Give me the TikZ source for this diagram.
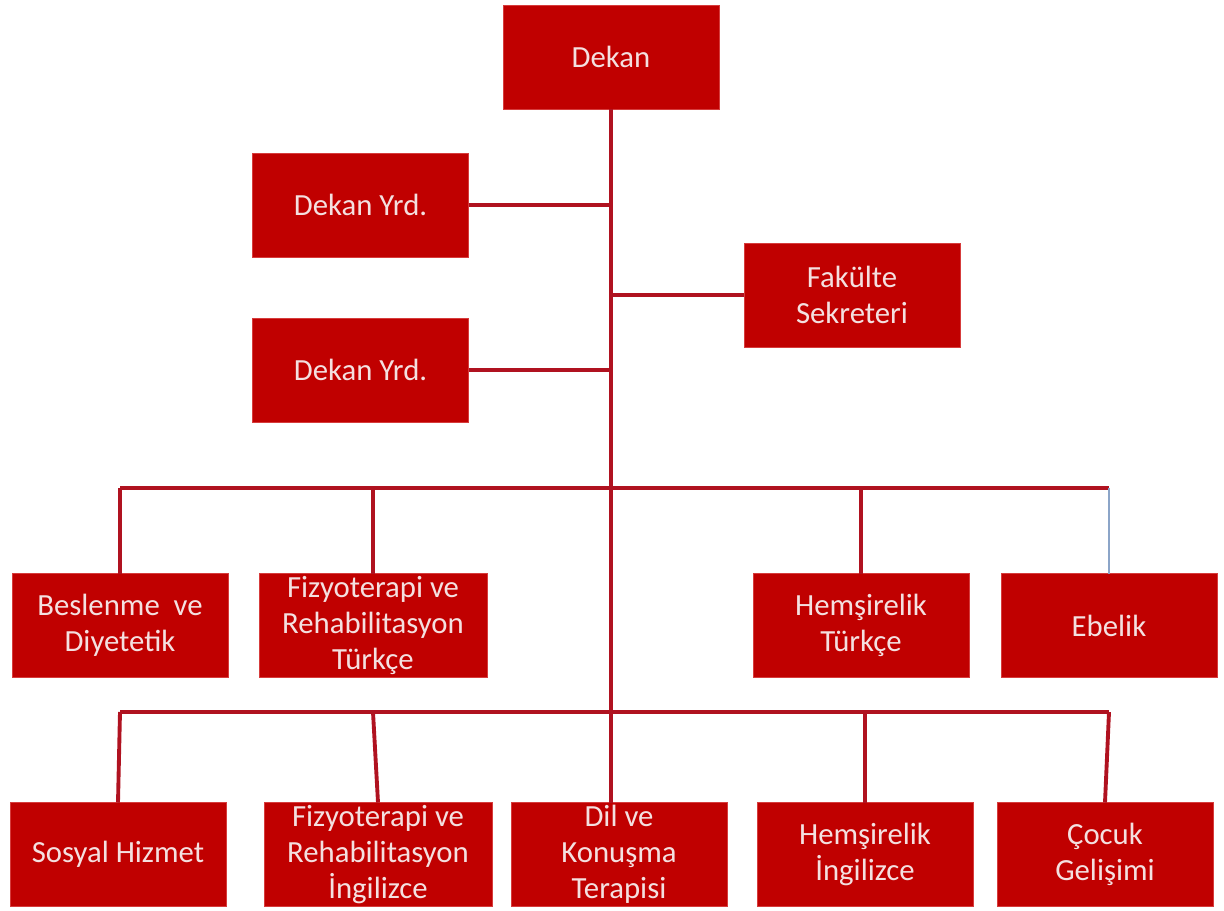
\documentclass[tikz,border=0pt]{standalone}
\usepackage{fontspec}
\setmainfont{Carlito}
\usetikzlibrary{positioning}
\definecolor{boxred}{RGB}{192,0,0}
\definecolor{edgered}{RGB}{214,60,60}
\definecolor{linered}{RGB}{176,18,32}
\definecolor{txtpink}{RGB}{244,224,224}
\definecolor{thinblue}{RGB}{140,165,200}

\begin{document}
\begin{tikzpicture}[
 unit/.style = {
        draw=edgered, fill=boxred, rectangle, align=center,
        text=txtpink, font=\fontsize{17.5}{20.5}\selectfont,
        minimum width=43.2mm, minimum height=20.8mm,
        inner sep=0pt, outer sep=0pt},
 wide/.style = {unit, minimum width=45.6mm},
  bus/.style = {draw=linered, line width=2.2pt},
 thin/.style = {draw=thinblue, line width=0.7pt}
                    ]
\useasboundingbox (0,0) rectangle (24.48,-18.22);
% top of the tree
\node (dekan)  [unit] at (12.22,-1.14)  {Dekan};
\node (yrd1)   [unit] at (7.21,-4.10)   {Dekan Yrd.};
\node (sekr)   [unit] at (17.04,-5.90)  {Fakülte\\ Sekreteri};
\node (yrd2)   [unit] at (7.21,-7.40)   {Dekan Yrd.};
% the first row of departments
\node (besl)   [unit] at (2.40,-12.51)  {Beslenme\ \ ve\\ Diyetetik};
\node (fiztr)  [wide] at (7.46,-12.51)  {Fizyoterapi ve\\ Rehabilitasyon\\ Türkçe};
\node (hemtr)  [unit] at (17.22,-12.51) {Hemşirelik\\ Türkçe};
\node (ebe)    [unit] at (22.18,-12.51) {Ebelik};
% the second row of departments
\node (sos)    [unit] at (2.36,-17.09)  {Sosyal Hizmet};
\node (fizen)  [wide] at (7.56,-17.09)  {Fizyoterapi ve\\ Rehabilitasyon\\ İngilizce};
\node (dil)    [unit] at (12.38,-17.09) {Dil ve\\ Konuşma\\ Terapisi};
\node (hemen)  [unit] at (17.30,-17.09) {Hemşirelik\\ İngilizce};
\node (cocuk)  [unit] at (22.10,-17.09) {Çocuk\\ Gelişimi};
% the two bus lines
\coordinate (b1) at (0,-9.76);
\coordinate (b2) at (0,-14.24);
% trunk and side branches
\draw[bus] (dekan.south) -- (dekan.south |- b2) coordinate (t2);
\draw[bus] (yrd1.east) -- (yrd1.east -| dekan.south);
\draw[bus] (sekr.west) -- (sekr.west -| dekan.south);
\draw[bus] (yrd2.east) -- (yrd2.east -| dekan.south);
% first bus
\draw[bus] (besl.north |- b1) -- (ebe.north |- b1);
\draw[bus] (besl.north |- b1) -- (besl.north);
\draw[bus] (fiztr.north |- b1) -- (fiztr.north);
\draw[bus] (hemtr.north |- b1) -- (hemtr.north);
\draw[thin] (ebe.north |- b1) -- (ebe.north);
% second bus
\draw[bus] (besl.north |- b2) -- (ebe.north |- b2);
\draw[bus] (besl.north |- b2) -- (sos.north);
\draw[bus] (fiztr.north |- b2) -- (fizen.north);
\draw[bus] (t2) -- (dil.north -| t2);
\draw[bus] (hemen.north |- b2) -- (hemen.north);
\draw[bus] (ebe.north |- b2) -- (cocuk.north);
\end{tikzpicture}
\end{document}
